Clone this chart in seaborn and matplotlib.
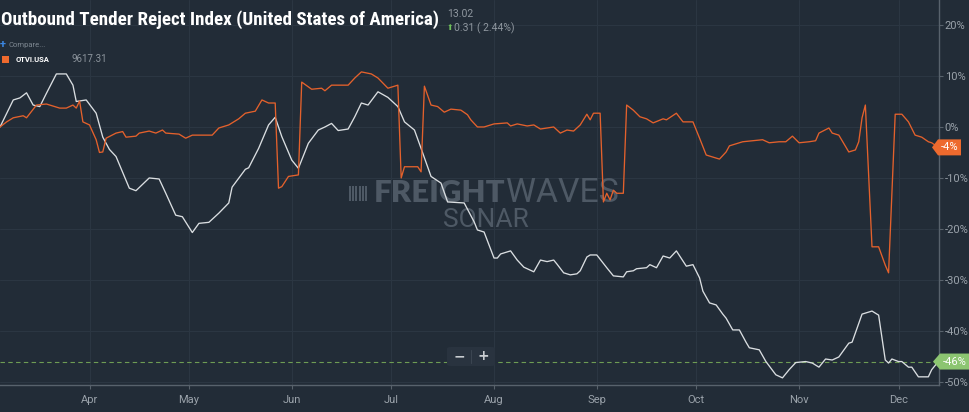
import numpy as np
import pandas as pd
import matplotlib
matplotlib.use("Agg")
import matplotlib.pyplot as plt
from matplotlib.patches import Polygon, FancyBboxPatch, Rectangle
import seaborn as sns

# ---------------- data ----------------
YEAR = "2018"
white_dates = [
    "03-05", "03-09", "03-11", "03-13", "03-15", "03-17", "03-19", "03-22", "03-25", "03-27",
    "03-28", "03-31", "04-03", "04-05", "04-07", "04-09", "04-13", "04-15", "04-19", "04-22",
    "04-24", "04-27", "04-29", "05-02", "05-04", "05-07", "05-10", "05-13", "05-14", "05-18",
    "05-19", "05-22", "05-25", "05-27", "05-29", "06-01", "06-03", "06-06", "06-09", "06-11",
    "06-13", "06-15", "06-18", "06-20", "06-22", "06-24", "06-27", "06-30", "07-03", "07-05",
    "07-08", "07-10", "07-13", "07-16", "07-18", "07-23", "07-26", "07-27", "07-29", "08-01",
    "08-02", "08-03", "08-06", "08-08", "08-10", "08-13", "08-15", "08-17", "08-19", "08-20",
    "08-22", "08-24", "08-26", "08-27", "08-29", "08-30", "09-01", "09-04", "09-06", "09-09",
    "09-10", "09-12", "09-13", "09-16", "09-17", "09-19", "09-21", "09-23", "09-25", "09-28",
    "09-30", "10-02", "10-03", "10-05", "10-07", "10-09", "10-10", "10-12", "10-14", "10-16",
    "10-17", "10-20", "10-22", "10-25", "10-27", "10-29", "10-31", "11-03", "11-05", "11-07",
    "11-09", "11-11", "11-13", "11-16", "11-17", "11-20", "11-21", "11-23", "11-25", "11-27",
    "11-28", "11-29", "12-01", "12-02", "12-04", "12-05", "12-07", "12-10", "12-11", "12-13",
]
white_vals = [
    0.0, 5.3, 5.7, 6.7, 4.3, 4.0, 6.6, 10.4, 10.4, 8.2,
    5.0, 5.3, 2.7, -2.0, -4.4, -5.8, -12.0, -12.5, -10.0, -10.2,
    -13.0, -17.3, -17.6, -20.7, -18.9, -18.7, -16.9, -14.9, -11.8, -8.3,
    -8.0, -4.2, 0.4, 1.9, -1.9, -6.5, -8.1, -3.2, -0.6, 0.0,
    0.7, -0.7, -0.4, 2.0, 4.7, 4.3, 6.9, 5.8, 4.0, 1.0,
    -0.6, -4.2, -9.7, -11.0, -14.7, -14.9, -18.6, -20.2, -20.6, -25.7,
    -25.7, -24.9, -24.3, -26.1, -27.5, -28.4, -26.1, -26.4, -26.1, -26.9,
    -28.6, -29.0, -28.8, -28.2, -25.5, -25.1, -25.1, -27.6, -29.2, -29.4,
    -28.4, -28.2, -27.8, -27.6, -27.0, -27.6, -25.3, -25.7, -24.3, -27.3,
    -27.0, -29.6, -32.2, -34.5, -34.9, -36.7, -37.5, -39.8, -39.8, -42.2,
    -43.3, -43.7, -46.0, -48.6, -49.2, -47.6, -46.2, -46.0, -46.3, -47.1,
    -45.5, -45.7, -45.1, -42.4, -42.2, -36.7, -36.5, -36.1, -36.9, -45.7,
    -46.3, -45.5, -46.0, -46.0, -47.1, -47.1, -49.0, -49.0, -47.6, -46.0,
]
orange_dates = [
    "03-05", "03-07", "03-09", "03-12", "03-13", "03-16", "03-19", "03-23", "03-25", "03-27",
    "03-28", "03-29", "03-30", "04-01", "04-03", "04-04", "04-05", "04-06", "04-09", "04-11",
    "04-12", "04-15", "04-16", "04-19", "04-21", "04-23", "04-24", "04-28", "04-30", "05-02",
    "05-08", "05-10", "05-13", "05-16", "05-18", "05-21", "05-23", "05-25", "05-27", "05-28",
    "05-29", "05-31", "06-03", "06-04", "06-07", "06-10", "06-11", "06-13", "06-18", "06-20",
    "06-22", "06-25", "06-27", "06-30", "07-03", "07-04", "07-05", "07-09", "07-10", "07-11",
    "07-13", "07-15", "07-17", "07-19", "07-22", "07-24", "07-25", "07-27", "07-29", "08-01",
    "08-05", "08-06", "08-08", "08-11", "08-13", "08-15", "08-19", "08-21", "08-23", "08-25",
    "08-27", "08-29", "08-30", "08-31", "09-02", "09-03", "09-04", "09-05", "09-06", "09-07",
    "09-09", "09-10", "09-12", "09-14", "09-16", "09-18", "09-21", "09-22", "09-25", "09-27",
    "09-30", "10-02", "10-04", "10-08", "10-10", "10-11", "10-15", "10-18", "10-21", "10-23",
    "10-26", "10-28", "10-30", "11-01", "11-04", "11-06", "11-07", "11-10", "11-11", "11-13",
    "11-16", "11-18", "11-19", "11-20", "11-21", "11-23", "11-25", "11-27", "11-28", "11-30",
    "12-02", "12-04", "12-06", "12-08", "12-10", "12-11", "12-13",
]
orange_vals = [
    0.0, 1.0, 1.8, 2.2, 1.8, 4.3, 4.5, 3.7, 3.7, 4.3,
    3.7, 5.1, 1.0, 0.4, -2.5, -5.0, -4.9, -2.2, -1.2, -0.9,
    -2.0, -1.8, -1.2, -0.8, -1.2, -0.6, -1.2, -1.4, -2.2, -1.6,
    -1.6, -0.2, 0.4, 1.6, 2.7, 3.1, 5.3, 4.7, 4.7, -12.0,
    -11.7, -9.7, -9.4, 8.8, 7.4, 7.6, 7.1, 8.2, 8.2, 9.6,
    10.8, 10.4, 9.6, 7.6, 8.2, -10.0, -7.8, -7.8, -8.8, 8.0,
    4.3, 4.0, 2.9, 3.5, 3.3, 2.4, 1.4, 0.0, 0.0, 0.6,
    0.8, 0.2, 0.6, 0.2, 0.4, -0.4, 0.0, -1.2, -0.6, -0.8,
    0.4, 2.5, 1.4, 2.7, 2.7, -14.7, -13.0, -14.3, -12.4, -13.0,
    -13.0, 4.3, 3.3, 2.0, 1.6, 0.8, 1.6, 1.4, 2.7, 1.0,
    1.0, -2.2, -5.5, -6.3, -4.9, -3.7, -2.9, -2.7, -2.5, -3.1,
    -2.9, -2.9, -1.8, -3.1, -2.9, -2.7, -1.2, -0.2, -1.2, -1.6,
    -4.9, -4.5, -2.9, 1.8, 4.3, -23.5, -23.5, -27.1, -28.6, 2.5,
    2.5, 1.0, -1.6, -2.0, -2.9, -3.1, -4.0,
]
y_ticks = [-50, -40, -30, -20, -10, 0, 10, 20]
month_ticks = ["04-01", "05-01", "06-01", "07-01", "08-01", "09-01", "10-01", "11-01", "12-01"]
series_name = "OTVI.USA"
series_value = "9617.31"
title_text = "Outbound Tender Reject Index (United States of America)"
last_value = "13.02"
change_text = "0.31 ( 2.44%)"

# ---------------- style ----------------
BG = "#222c37"
GRID = "#2b3642"
AXC = "#58626c"
LBL = "#9aa2aa"
WHITE_LINE = "#dadee1"
ORANGE = "#e4612c"
TAG_OR = "#ee6a2e"
TAG_GR = "#8cc571"
WM = "#4e5965"

sns.set_theme(style="dark")
plt.rcParams["font.family"] = ["Roboto", "DejaVu Sans"]
plt.rcParams["axes.facecolor"] = BG
plt.rcParams["figure.facecolor"] = BG

W, H = 970, 412
fig = plt.figure(figsize=(W / 100, H / 100), dpi=100, facecolor=BG)
ax = fig.add_axes([0, 27 / H, 939 / W, 385 / H])
ax.set_facecolor(BG)


def fx(px):
    return px / W


def fy(py):
    return 1 - py / H


df_w = pd.DataFrame({"date": pd.to_datetime([f"{YEAR}-{d}" for d in white_dates]),
                     "value": white_vals})
df_o = pd.DataFrame({"date": pd.to_datetime([f"{YEAR}-{d}" for d in orange_dates]),
                     "value": orange_vals})

sns.lineplot(data=df_w, x="date", y="value", ax=ax, color=WHITE_LINE, lw=0.95,
             estimator=None, sort=False, zorder=3)
sns.lineplot(data=df_o, x="date", y="value", ax=ax, color=ORANGE, lw=0.95,
             estimator=None, sort=False, zorder=4)

ax.set_xlim(pd.Timestamp(f"{YEAR}-03-05"), pd.Timestamp(f"{YEAR}-12-13 05:00"))
ax.set_ylim(-50.6, 24.9)

ax.set_xticks(pd.to_datetime([f"{YEAR}-{m}" for m in month_ticks]))
ax.set_xticklabels([pd.Timestamp(f"{YEAR}-{m}").strftime("%b") for m in month_ticks])
ax.set_yticks(y_ticks)
ax.set_yticklabels([f"{v}%" for v in y_ticks])
ax.yaxis.tick_right()
ax.set_xlabel("")
ax.set_ylabel("")

ax.grid(True, color=GRID, lw=0.8)
ax.set_axisbelow(True)
ax.tick_params(axis="y", colors=AXC, labelcolor=LBL, labelsize=8, length=3, width=0.8,
               pad=1, direction="out", right=True, left=False)
ax.tick_params(axis="x", colors=AXC, labelcolor=LBL, labelsize=8, length=3, width=0.8,
               pad=4, direction="out", bottom=True)
for s in ["top", "left"]:
    ax.spines[s].set_visible(False)
for s in ["right", "bottom"]:
    ax.spines[s].set_visible(True)
    ax.spines[s].set_color(AXC)
    ax.spines[s].set_linewidth(1.0)

# dashed reference line at last white value
ax.axhline(white_vals[-1], color="#6e9c54", lw=0.8, ls=(0, (4, 3)), zorder=2)


# value tags on the right axis
def tag(yval, color, txt, xp, xl, xr):
    h = 8 / 5.1
    tr = ax.get_yaxis_transform()
    A = 939.0
    pts = [(xp / A, yval), (xl / A, yval + h), (xr / A, yval + h),
           (xr / A, yval - h), (xl / A, yval - h)]
    ax.add_patch(Polygon(pts, closed=True, facecolor=color, edgecolor="none",
                         transform=tr, clip_on=False, zorder=10))
    ax.text((xl + xr) / 2 / A, yval, txt, transform=tr, ha="center", va="center",
            color="white", fontsize=8, zorder=11, clip_on=False)


tag(orange_vals[-1], TAG_OR, f"{round(orange_vals[-1])}%", 932, 938, 961)
tag(white_vals[-1], TAG_GR, f"{round(white_vals[-1])}%", 933, 940, 969)

# watermark (behind the lines)
r = fig.canvas.get_renderer()


def fit(t, target):
    w = t.get_window_extent(renderer=r).width
    if w > 0:
        t.set_fontsize(t.get_fontsize() * target / w)


t1 = ax.text(fx(505), fy(193), "FREIGHT", transform=fig.transFigure, ha="right",
             va="center", color=WM, fontsize=16, weight="heavy",
             family=["Lato", "Roboto", "DejaVu Sans"], zorder=1)
t2 = ax.text(fx(506), fy(193), "WAVES", transform=fig.transFigure, ha="left",
             va="center", color=WM, fontsize=16, weight="normal",
             family=["Roboto", "Lato", "DejaVu Sans"], zorder=1)
t3 = ax.text(fx(486), fy(220), "SONAR", transform=fig.transFigure, ha="center",
             va="center", color=WM, fontsize=19, weight="normal",
             family=["Roboto", "Lato", "DejaVu Sans"], zorder=1)
fit(t1, 132)
fit(t2, 113)
for i in range(6):
    ax.add_patch(Rectangle((fx(349 + i * 3.2), fy(201)), 2.0 / W, 15 / H,
                           transform=fig.transFigure, facecolor=WM, edgecolor="none",
                           zorder=1, clip_on=False))

# header
tt = fig.text(fx(1), fy(20), title_text, color="white", weight="bold", va="center",
              ha="left", fontsize=15, fontstretch="condensed",
              family=["Roboto Condensed", "Noto Sans Condensed", "Liberation Sans Narrow",
                      "Noto Sans", "Roboto", "DejaVu Sans"])
fit(tt, 438)
fig.text(fx(447), fy(14), last_value, color="#8f979f", fontsize=7.5, va="center")
fig.text(fx(447), fy(28), "\u2b06", color="#6fbf5a", fontsize=5.5, va="center",
         family=["DejaVu Sans"])
fig.text(fx(454), fy(28), change_text, color="#8f979f", fontsize=7.5, va="center")

# legend area
fig.text(fx(0), fy(45), "+", color="#3b86e0", fontsize=8, weight="bold", va="center")
fig.text(fx(9), fy(45), "Compare...", color="#7d8791", fontsize=5.5, va="center")
fig.patches.append(Rectangle((fx(2), fy(63)), 7 / W, 7 / H, transform=fig.transFigure,
                             facecolor=TAG_OR, edgecolor="none"))
fig.text(fx(16), fy(59), series_name, color="white", fontsize=5.5, weight="bold",
         va="center")
fig.text(fx(71), fy(59), series_value, color="#8d959d", fontsize=7, va="center")

# zoom buttons
fig.patches.append(FancyBboxPatch((fx(447), fy(366)), 48 / W, 19 / H,
                                  boxstyle="round,pad=0,rounding_size=0.004",
                                  transform=fig.transFigure, facecolor="#29333f",
                                  edgecolor="none"))
fig.lines.append(plt.Line2D([fx(471), fx(471)], [fy(363), fy(350)],
                            transform=fig.transFigure, color="#3b4551", lw=0.8))
fig.text(fx(459), fy(356), "\u2212", color="#c9cdd1", fontsize=10, weight="bold",
         ha="center", va="center", family=["DejaVu Sans"])
fig.text(fx(483), fy(356), "+", color="#c9cdd1", fontsize=10, weight="bold",
         ha="center", va="center", family=["DejaVu Sans"])

fig.savefig("out.png", dpi=100, facecolor=BG)
